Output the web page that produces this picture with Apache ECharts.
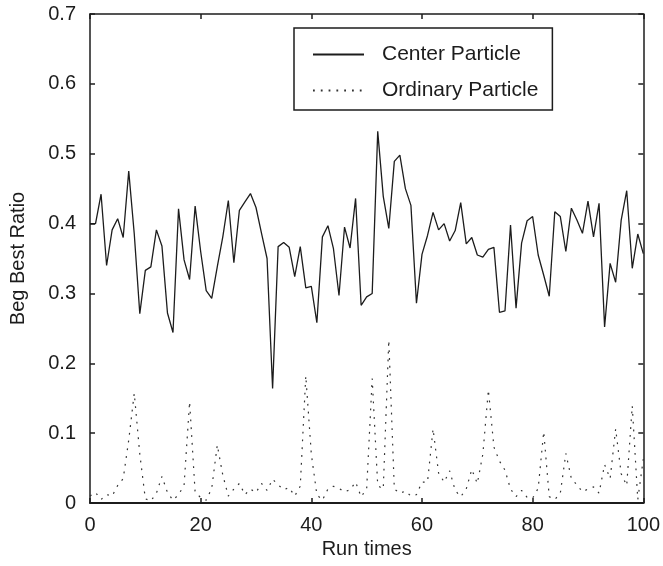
<!DOCTYPE html>
<html>
<head>
<meta charset="utf-8">
<script src="https://cdn.jsdelivr.net/npm/echarts@6/dist/echarts.min.js"></script>
<style>
  html, body { margin: 0; padding: 0; background: #fff; }
  #chart { width: 663px; height: 566px; }
</style>
</head>
<body>
<div id="chart"></div>
<script>
// 数据：运行次数 0..100，两种粒子的 Beg Best Ratio
const centerParticle = [
    0.400, 0.400, 0.442, 0.340, 0.391, 0.407, 0.380, 0.475, 0.385, 0.271,
    0.333, 0.338, 0.391, 0.368, 0.272, 0.244, 0.421, 0.348, 0.320, 0.425,
    0.360, 0.304, 0.293, 0.338, 0.381, 0.433, 0.344, 0.419, 0.431, 0.443,
    0.423, 0.386, 0.350, 0.164, 0.367, 0.373, 0.366, 0.324, 0.367, 0.308,
    0.310, 0.258, 0.381, 0.397, 0.364, 0.297, 0.395, 0.365, 0.436, 0.283,
    0.295, 0.300, 0.532, 0.439, 0.393, 0.489, 0.498, 0.450, 0.426, 0.286,
    0.356, 0.383, 0.416, 0.391, 0.400, 0.375, 0.390, 0.430, 0.371, 0.380,
    0.355, 0.352, 0.363, 0.366, 0.273, 0.275, 0.398, 0.279, 0.372, 0.404,
    0.410, 0.355, 0.326, 0.296, 0.417, 0.410, 0.360, 0.422, 0.405, 0.386,
    0.432, 0.381, 0.429, 0.252, 0.343, 0.316, 0.405, 0.447, 0.336, 0.385,
    0.357
];

const ordinaryParticle = [
    0.010, 0.015, 0.005, 0.012, 0.010, 0.025, 0.035, 0.090, 0.157, 0.070,
    0.006, 0.003, 0.014, 0.038, 0.015, 0.004, 0.012, 0.025, 0.145, 0.015,
    0.008, 0.004, 0.021, 0.083, 0.040, 0.010, 0.020, 0.028, 0.012, 0.020,
    0.015, 0.028, 0.018, 0.034, 0.026, 0.019, 0.022, 0.010, 0.024, 0.182,
    0.070, 0.012, 0.004, 0.020, 0.024, 0.021, 0.016, 0.019, 0.030, 0.009,
    0.020, 0.178, 0.025, 0.020, 0.233, 0.020, 0.014, 0.017, 0.010, 0.012,
    0.030, 0.030, 0.106, 0.043, 0.030, 0.046, 0.018, 0.009, 0.020, 0.048,
    0.028, 0.070, 0.162, 0.080, 0.060, 0.047, 0.020, 0.009, 0.018, 0.008,
    0.007, 0.021, 0.102, 0.009, 0.005, 0.014, 0.071, 0.035, 0.026, 0.016,
    0.020, 0.023, 0.014, 0.055, 0.035, 0.106, 0.042, 0.025, 0.139, 0.005,
    0.063
];

const xTicks = [0, 20, 40, 60, 80, 100];
const yTicks = [0, 0.1, 0.2, 0.3, 0.4, 0.5, 0.6, 0.7];

const fontFamily = 'Liberation Sans, Arial, sans-serif';
const ink = '#1c1c1c';

// 横坐标就是数组下标（运行次数）
function toPairs(values) {
    return values.map(function (v, i) { return [i, v]; });
}

const chart = echarts.init(document.getElementById('chart'));

const frameAxis = {
    axisLine: { show: true, onZero: false, lineStyle: { color: ink, width: 1.5 } },
    axisTick: { show: true, inside: true, length: 5, lineStyle: { color: ink, width: 1.5 } },
    splitLine: { show: false }
};

chart.setOption({
    animation: false,
    backgroundColor: '#fff',
    textStyle: { fontFamily: fontFamily },
    grid: { left: 88, right: 19, top: 14, bottom: 63 },
    legend: {
        orient: 'vertical',
        left: 294,
        top: 28,
        padding: [16, 14, 9, 18],
        itemGap: 15,
        itemWidth: 51,
        itemHeight: 14,
        borderColor: ink,
        borderWidth: 1.5,
        backgroundColor: '#fff',
        itemStyle: { opacity: 0 },
        textStyle: { fontSize: 21, color: ink, fontFamily: fontFamily, padding: [0, 0, 0, 13] },
        data: ['Center Particle', 'Ordinary Particle']
    },
    xAxis: [
        Object.assign({
            type: 'value',
            min: 0,
            max: 100,
            interval: 20,
            name: 'Run times',
            nameLocation: 'middle',
            nameGap: 36,
            nameTextStyle: { fontSize: 20, color: ink },
            axisLabel: {
                fontSize: 20, color: ink, margin: 12,
                formatter: function (v) { return xTicks.indexOf(v) >= 0 ? String(v) : ''; }
            }
        }, frameAxis, { axisLine: { show: true, onZero: false, lineStyle: { color: ink, width: 2 } } }),
        Object.assign({
            type: 'value',
            position: 'top',
            min: 0,
            max: 100,
            interval: 20,
            axisLabel: { show: false }
        }, frameAxis)
    ],
    yAxis: [
        Object.assign({
            type: 'value',
            min: 0,
            max: 0.7,
            interval: 0.1,
            name: 'Beg Best Ratio',
            nameLocation: 'middle',
            nameGap: 62,
            nameTextStyle: { fontSize: 20, color: ink },
            axisLabel: {
                fontSize: 20, color: ink, margin: 14,
                formatter: function (v) {
                    const t = Math.round(v * 10) / 10;
                    return yTicks.indexOf(t) >= 0 ? (t === 0 ? '0' : t.toFixed(1)) : '';
                }
            }
        }, frameAxis),
        Object.assign({
            type: 'value',
            position: 'right',
            min: 0,
            max: 0.7,
            interval: 0.1,
            axisLabel: { show: false }
        }, frameAxis)
    ],
    series: [
        {
            name: 'Center Particle',
            type: 'line',
            data: toPairs(centerParticle),
            symbol: 'none',
            itemStyle: { color: ink },
            lineStyle: { color: ink, width: 1.3, type: 'solid' }
        },
        {
            name: 'Ordinary Particle',
            type: 'line',
            data: toPairs(ordinaryParticle),
            symbol: 'none',
            itemStyle: { color: '#333' },
            lineStyle: { color: '#333', width: 1.2, type: [1.8, 6] }
        }
    ]
});
</script>
</body>
</html>
